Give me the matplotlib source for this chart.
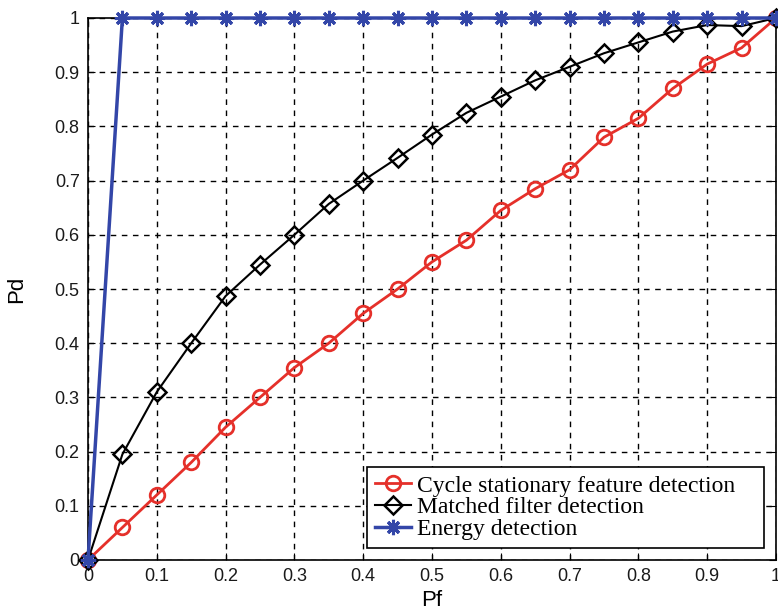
import matplotlib.pyplot as plt
import numpy as np

# false alarm probability, sampled every 0.05
pf = np.arange(0, 1.0001, 0.05)

pd_cycle = [0.0, 0.06, 0.12, 0.18, 0.245, 0.30, 0.355, 0.40, 0.455, 0.50, 0.55,
            0.59, 0.645, 0.685, 0.72, 0.78, 0.815, 0.87, 0.915, 0.945, 1.0]
pd_matched = [0.0, 0.195, 0.31, 0.40, 0.487, 0.545, 0.60, 0.657, 0.70, 0.742, 0.785,
              0.825, 0.855, 0.885, 0.91, 0.935, 0.955, 0.975, 0.987, 0.985, 1.0]
pd_energy = [0.0] + [1.0] * 20

labels = ["Cycle stationary feature detection", "Matched filter detection", "Energy detection"]
ticks = np.arange(0, 1.0001, 0.1)
tick_labels = ["0"] + [f"{t:.1f}" for t in ticks[1:-1]] + ["1"]

plt.rcParams['font.family'] = ['Liberation Sans', 'DejaVu Sans']

fig = plt.figure(figsize=(7.78, 6.15), dpi=100)
ax = fig.add_axes([88 / 778, 55 / 615, 688 / 778, 542 / 615])

ax.plot(pf, pd_cycle, color='#e5302a', lw=2, marker='o', ms=10.5, mfc='none',
        mew=2, label=labels[0], clip_on=False, zorder=3)
ax.plot(pf, pd_matched, color='black', lw=1.5, marker='D', ms=9.5, mfc='none',
        mew=1.8, label=labels[1], clip_on=False, zorder=4)
# matlab style asterisk marker
ax.plot(pf, pd_energy, color='#3346a8', lw=2.5, marker=(8, 2, 0), ms=11, mew=2.2,
        label=labels[2], clip_on=False, zorder=5)

ax.set_xlim(0, 1)
ax.set_ylim(0, 1)
ax.set_xticks(ticks)
ax.set_yticks(ticks)
ax.set_xticklabels(tick_labels)
ax.set_yticklabels(tick_labels)
ax.tick_params(direction='in', top=True, right=True, labelsize=13, length=5,
               labelcolor='#1a1a1a', pad=6)
ax.grid(True, color='black', ls=(0, (4, 4)), lw=1)
for s in ax.spines.values():
    s.set_linewidth(1.2)

ax.set_xlabel("Pf", fontsize=16, labelpad=3)
ax.set_ylabel("Pd", fontsize=16, labelpad=20)

# legend box is wider than its text, like the matlab one
leg = ax.legend(loc='lower left', bbox_to_anchor=(0.4055, 0.022, 0.577, 0.15),
                mode='expand', prop={'family': 'Liberation Serif', 'size': 17},
                fancybox=False, framealpha=1, edgecolor='black',
                borderaxespad=0, handlelength=1.5, handletextpad=0.25,
                labelspacing=0.0, borderpad=0.35)
leg.get_frame().set_linewidth(1.2)

fig.savefig("out.png", dpi=100)
